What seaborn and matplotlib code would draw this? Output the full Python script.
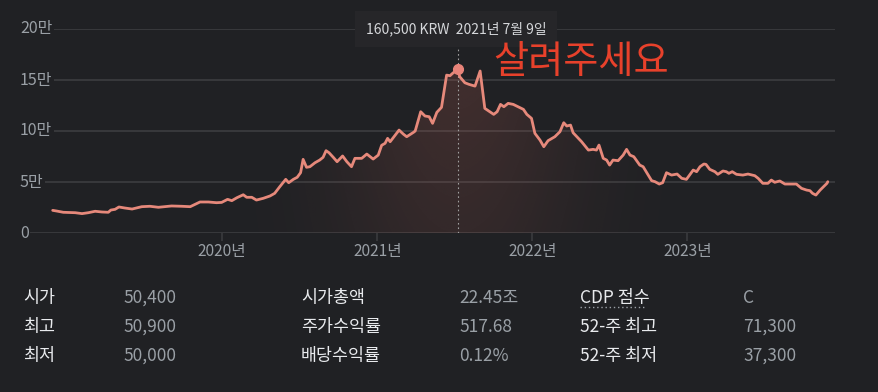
import numpy as np
import pandas as pd
import matplotlib
matplotlib.use("Agg")
import matplotlib.pyplot as plt
import matplotlib.dates as mdates
import matplotlib.transforms as mtransforms
from matplotlib.patches import Polygon
from matplotlib.lines import Line2D
from matplotlib.colors import to_rgb
import seaborn as sns

# ---------------- data ----------------
dates = [
    "2018-11-28", "2018-12-08", "2018-12-23", "2019-01-20", "2019-02-05", "2019-02-20",
    "2019-03-08", "2019-03-24", "2019-04-08", "2019-04-14", "2019-04-24", "2019-05-03",
    "2019-05-17", "2019-06-03", "2019-06-26", "2019-07-15", "2019-08-04", "2019-09-04",
    "2019-09-28", "2019-10-18", "2019-11-10", "2019-11-30", "2019-12-19", "2019-12-31",
    "2020-01-14", "2020-01-24", "2020-02-05", "2020-02-20", "2020-02-28", "2020-03-11",
    "2020-03-22", "2020-04-07", "2020-04-23", "2020-05-04", "2020-05-16", "2020-05-30",
    "2020-06-06", "2020-06-17", "2020-06-26", "2020-07-04", "2020-07-10", "2020-07-18",
    "2020-07-26", "2020-08-07", "2020-08-18", "2020-08-26", "2020-09-02", "2020-09-09",
    "2020-09-19", "2020-09-28", "2020-10-11", "2020-10-21", "2020-11-01", "2020-11-09",
    "2020-11-25", "2020-12-07", "2020-12-22", "2021-01-03", "2021-01-11", "2021-01-19",
    "2021-01-25", "2021-01-31", "2021-02-21", "2021-03-03", "2021-03-11", "2021-03-27",
    "2021-03-31", "2021-04-13", "2021-04-23", "2021-05-03", "2021-05-11", "2021-05-21",
    "2021-06-01", "2021-06-13", "2021-06-21", "2021-06-27", "2021-07-09", "2021-07-14",
    "2021-07-26", "2021-08-05", "2021-08-19", "2021-08-31", "2021-09-11", "2021-09-23",
    "2021-10-02", "2021-10-10", "2021-10-18", "2021-10-26", "2021-11-05", "2021-11-17",
    "2021-12-03", "2021-12-11", "2021-12-19", "2021-12-30", "2022-01-07", "2022-01-19",
    "2022-01-28", "2022-02-07", "2022-02-23", "2022-03-07", "2022-03-16", "2022-03-23",
    "2022-04-01", "2022-04-07", "2022-04-27", "2022-05-13", "2022-05-24", "2022-06-01",
    "2022-06-07", "2022-06-17", "2022-06-25", "2022-07-02", "2022-07-10", "2022-07-22",
    "2022-08-03", "2022-08-11", "2022-08-19", "2022-08-28", "2022-09-11", "2022-09-19",
    "2022-10-01", "2022-10-09", "2022-10-17", "2022-10-27", "2022-11-04", "2022-11-13",
    "2022-11-25", "2022-12-08", "2022-12-19", "2022-12-30", "2023-01-15", "2023-01-23",
    "2023-01-31", "2023-02-09", "2023-02-14", "2023-02-23", "2023-03-07", "2023-03-14",
    "2023-03-26", "2023-04-03", "2023-04-09", "2023-04-17", "2023-04-27", "2023-05-12",
    "2023-05-24", "2023-06-09", "2023-06-17", "2023-06-28", "2023-07-10", "2023-07-18",
    "2023-07-26", "2023-08-07", "2023-08-19", "2023-08-30", "2023-09-15", "2023-09-27",
    "2023-10-09", "2023-10-17", "2023-10-23", "2023-10-31", "2023-11-10", "2023-11-18",
    "2023-11-26", "2023-11-28",
]
prices = [
    22200, 21500, 20300, 19900, 19000, 19900,
    21300, 20600, 20300, 22500, 23200, 25500,
    24500, 23500, 25800, 26200, 25200, 26500,
    26200, 25800, 30400, 30400, 29700, 30000,
    33000, 31700, 34600, 37500, 35000, 35000,
    32300, 34000, 36300, 38900, 45400, 52600,
    49300, 52600, 54600, 59100, 72200, 64400,
    65000, 68900, 71500, 74200, 80700, 78700,
    74200, 69900, 75500, 69900, 65000, 73200,
    73200, 77400, 72500, 76400, 86000, 87900,
    92800, 89500, 100900, 97000, 94400, 98700,
    100000, 118900, 114700, 114000, 107500, 118300,
    123200, 154800, 154200, 156500, 160500, 153200,
    147300, 145700, 144000, 158800, 122200, 118900,
    116300, 118900, 126100, 123800, 127100, 126100,
    122800, 121200, 116300, 112400, 97700, 91100,
    84600, 90500, 94400, 99300, 108100, 104900,
    105800, 98300, 89500, 81300, 82000, 81300,
    86200, 73200, 71500, 66600, 71500, 70900,
    76400, 82000, 76400, 74800, 66600, 65000,
    56800, 51300, 50300, 48000, 49300, 59100,
    56800, 57800, 53600, 52600, 61700, 60100,
    65000, 67600, 67300, 62400, 60100, 57500,
    60800, 60100, 58500, 60100, 57500, 56800,
    57800, 56200, 53600, 48700, 48700, 51900,
    49700, 51000, 48000, 48000, 48000, 43800,
    42100, 41500, 38900, 37200, 42100, 45400,
    48700, 50300,
]
peak_date = "2021-07-09"
peak_price = 160500
currency = "KRW"

y_ticks = [0, 50000, 100000, 150000, 200000]
y_tick_labels = ["0", "5만", "10만", "15만", "20만"]
x_tick_years = [2020, 2021, 2022, 2023]
annotation = "살려주세요"

stat_labels_1 = ["시가", "최고", "최저"]
stat_values_1 = ["50,400", "50,900", "50,000"]
stat_labels_2 = ["시가총액", "주가수익률", "배당수익률"]
stat_values_2 = ["22.45조", "517.68", "0.12%"]
stat_labels_3 = ["CDP 점수", "52-주 최고", "52-주 최저"]
stat_values_3 = ["C", "71,300", "37,300"]

# ---------------- style ----------------
BG = "#202124"
LINE = "#e6897b"
FILL = "#d86a5c"
GRID = "#3a3b3e"
TICK = "#9aa0a6"
LABEL = "#e8eaed"

sns.set_theme(style="dark")
plt.rcParams["font.family"] = ["Noto Sans CJK KR", "DejaVu Sans"]

W, H = 879, 392
fig = plt.figure(figsize=(W / 100, H / 100), dpi=100, facecolor=BG)
ax = fig.add_axes([20 / W, (H - 233) / H, 815 / W, 204 / H])
ax.set_facecolor(BG)

df = pd.DataFrame({"date": pd.to_datetime(dates), "price": prices})
sns.lineplot(data=df, x="date", y="price", ax=ax, color=LINE, linewidth=2.0,
             zorder=5, clip_on=False)

ax.set_xlim(pd.Timestamp("2018-09-12"), pd.Timestamp("2023-12-15"))
ax.set_ylim(0, 200000)
ax.grid(False)
for s in ax.spines.values():
    s.set_visible(False)

# gradient fill under the line, strongest around the hovered point
xnum = mdates.date2num(df["date"])
verts = [(xnum[0], 0)] + list(zip(xnum, df["price"])) + [(xnum[-1], 0)]
poly = Polygon(verts, closed=True, facecolor="none", edgecolor="none")
ax.add_patch(poly)
x0, x1 = ax.get_xlim()
gx = np.linspace(0, 1, 800)[None, :]
gy = np.linspace(0, 1, 200)[:, None]
xp = (mdates.date2num(pd.Timestamp(peak_date)) - x0) / (x1 - x0)
alpha = 0.20 * np.exp(-((gx - xp) / 0.15) ** 2) * (0.55 + 0.45 * gy)
img = np.zeros((200, 800, 4))
img[..., :3] = to_rgb(FILL)
img[..., 3] = alpha
im = ax.imshow(img, extent=[x0, x1, 0, 200000], origin="lower", aspect="auto", zorder=2)
im.set_clip_path(poly)
ax.set_xlim(x0, x1)
ax.set_ylim(0, 200000)

# horizontal grid + y labels
blend = mtransforms.blended_transform_factory(ax.transAxes, ax.transData)
for v, lab in zip(y_ticks, y_tick_labels):
    ax.axhline(v, color=GRID, lw=1.3, zorder=1)
    ax.text(0, v, lab, transform=blend, ha="left", va="center", color=TICK,
            fontsize=11.5, zorder=3,
            bbox=dict(facecolor=BG, edgecolor="none", pad=1.2))
ax.set_yticks([])
ax.set_ylabel("")
ax.set_xlabel("")

# x ticks
xt = [pd.Timestamp(f"{y}-01-01") for y in x_tick_years]
ax.set_xticks(xt)
ax.set_xticklabels([f"{y}년" for y in x_tick_years])
ax.tick_params(axis="x", colors=GRID, labelcolor=TICK, labelsize=11.2,
               length=6, width=1.2, pad=1.5, bottom=True, direction="out")

# hover marker and dotted line
pk = pd.Timestamp(peak_date)
ax.plot([pk, pk], [0, 181000], color="#a0a0a0", lw=0.8,
        linestyle=(0, (1.5, 2.5)), zorder=4)
ax.plot([pk], [peak_price], marker="o", markersize=7, color="#e8847a",
        zorder=6, clip_on=False)

# tooltip
tip = f"{peak_price:,} {currency}  {pk.year}년 {pk.month}월 {pk.day}일"
fig.text(456 / W, 1 - 29 / H, tip, ha="center", va="center", color="#d5d7da",
         fontsize=10,
         bbox=dict(facecolor="#262629", edgecolor="none", boxstyle="square,pad=0.75"))

# annotation
fig.text(493 / W, 1 - 62 / H, annotation, ha="left", va="center",
         color="#e8412b", fontsize=27.5)

# stats table
row_y = [298, 327, 356]
cols = [(23, stat_labels_1, 123, stat_values_1),
        (301, stat_labels_2, 459, stat_values_2),
        (580, stat_labels_3, 743, stat_values_3)]
for lx, labs, vx, vals in cols:
    for ry, lab, val in zip(row_y, labs, vals):
        fig.text(lx / W, 1 - ry / H, lab, ha="left", va="center",
                 color=LABEL, fontsize=12.5)
        fig.text(vx / W, 1 - ry / H, val, ha="left", va="center",
                 color=TICK, fontsize=12.5)

# dotted underline under "CDP 점수"
fig.add_artist(Line2D([580 / W, 645 / W], [1 - 307 / H, 1 - 307 / H],
                      transform=fig.transFigure, color="#9aa0a6", lw=1,
                      linestyle=(0, (1, 2))))

fig.savefig("out.png", dpi=100, facecolor=BG)
